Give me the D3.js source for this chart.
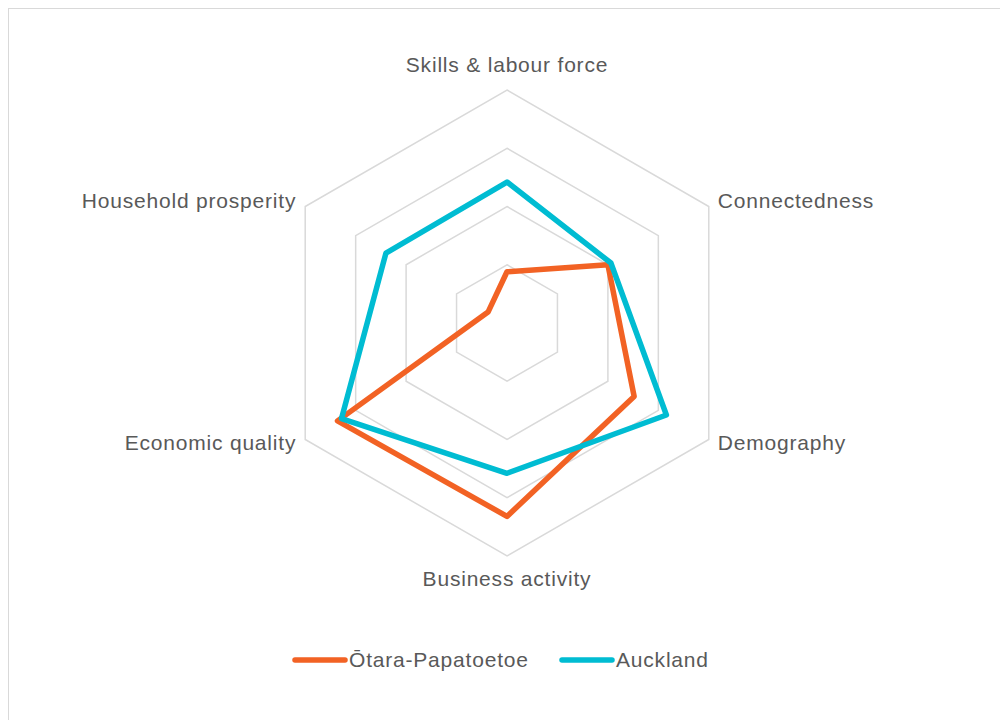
<!DOCTYPE html>
<html>
<head>
<meta charset="utf-8">
<script src="https://cdn.jsdelivr.net/npm/d3@7"></script>
<style>
  body { margin: 0; background: #fff; }
  text { font-family: "Liberation Sans", Arial, sans-serif; fill: #595959; letter-spacing: 0.8px; }
</style>
</head>
<body>
<svg id="radar" width="1000" height="720"></svg>
<script>
// axes, clockwise from the top
const axes = ["Skills & labour force", "Connectedness", "Demography",
              "Business activity", "Economic quality", "Household prosperity"];
const otara = [0.22, 0.50, 0.63, 0.83, 0.84, 0.094];
const auckland = [0.605, 0.515, 0.79, 0.645, 0.82, 0.60];
const seriesNames = ["Ōtara-Papatoetoe", "Auckland"];
const colors = ["#f26224", "#00bcd2"];
const ringLevels = [0.25, 0.5, 0.75, 1];

const svg = d3.select("#radar");
const cx = 507, cy = 323, R = 233;

// chart frame
svg.append("rect")
    .attr("x", 8.5).attr("y", 8.5)
    .attr("width", 1000).attr("height", 720)
    .attr("fill", "none")
    .attr("stroke", "#d9d9d9");

const rScale = d3.scaleLinear().domain([0, 1]).range([0, R]);
const angle = d3.scaleLinear().domain([0, axes.length]).range([0, 2 * Math.PI]);

const radial = d3.lineRadial()
    .angle((d, i) => angle(i))
    .radius(d => rScale(d))
    .curve(d3.curveLinearClosed);

const g = svg.append("g").attr("transform", `translate(${cx},${cy})`);

// grid rings
g.selectAll(".ring")
    .data(ringLevels)
    .join("path")
    .attr("class", "ring")
    .attr("d", lv => radial(axes.map(() => lv)))
    .attr("fill", "none")
    .attr("stroke", "#d9d9d9")
    .attr("stroke-width", 1.5);

// series
[otara, auckland].forEach((vals, k) => {
    g.append("path")
        .datum(vals)
        .attr("d", radial)
        .attr("fill", "none")
        .attr("stroke", colors[k])
        .attr("stroke-width", 5.5)
        .attr("stroke-linejoin", "round");
});

// axis labels
const labelPos = [
    { dx: 0, dy: -24, anchor: "middle" },
    { dx: 9, dy: -4, anchor: "start" },
    { dx: 9, dy: 5, anchor: "start" },
    { dx: 0, dy: 24, anchor: "middle" },
    { dx: -9, dy: 5, anchor: "end" },
    { dx: -9, dy: -4, anchor: "end" }
];
axes.forEach((name, i) => {
    const a = angle(i);
    const x = Math.sin(a) * R, y = -Math.cos(a) * R;
    g.append("text")
        .attr("x", x + labelPos[i].dx)
        .attr("y", y + labelPos[i].dy)
        .attr("text-anchor", labelPos[i].anchor)
        .attr("dominant-baseline", "middle")
        .attr("font-size", "21px")
        .text(name);
});

// legend
const legendX = [293, 560];
seriesNames.forEach((name, k) => {
    const lg = svg.append("g").attr("transform", `translate(${legendX[k]},660)`);
    lg.append("line")
        .attr("x1", 2).attr("x2", 52)
        .attr("stroke", colors[k])
        .attr("stroke-width", 5.5)
        .attr("stroke-linecap", "round");
    lg.append("text")
        .attr("x", 56)
        .attr("y", 1)
        .attr("dominant-baseline", "middle")
        .attr("font-size", "21px")
        .text(name);
});
</script>
</body>
</html>
